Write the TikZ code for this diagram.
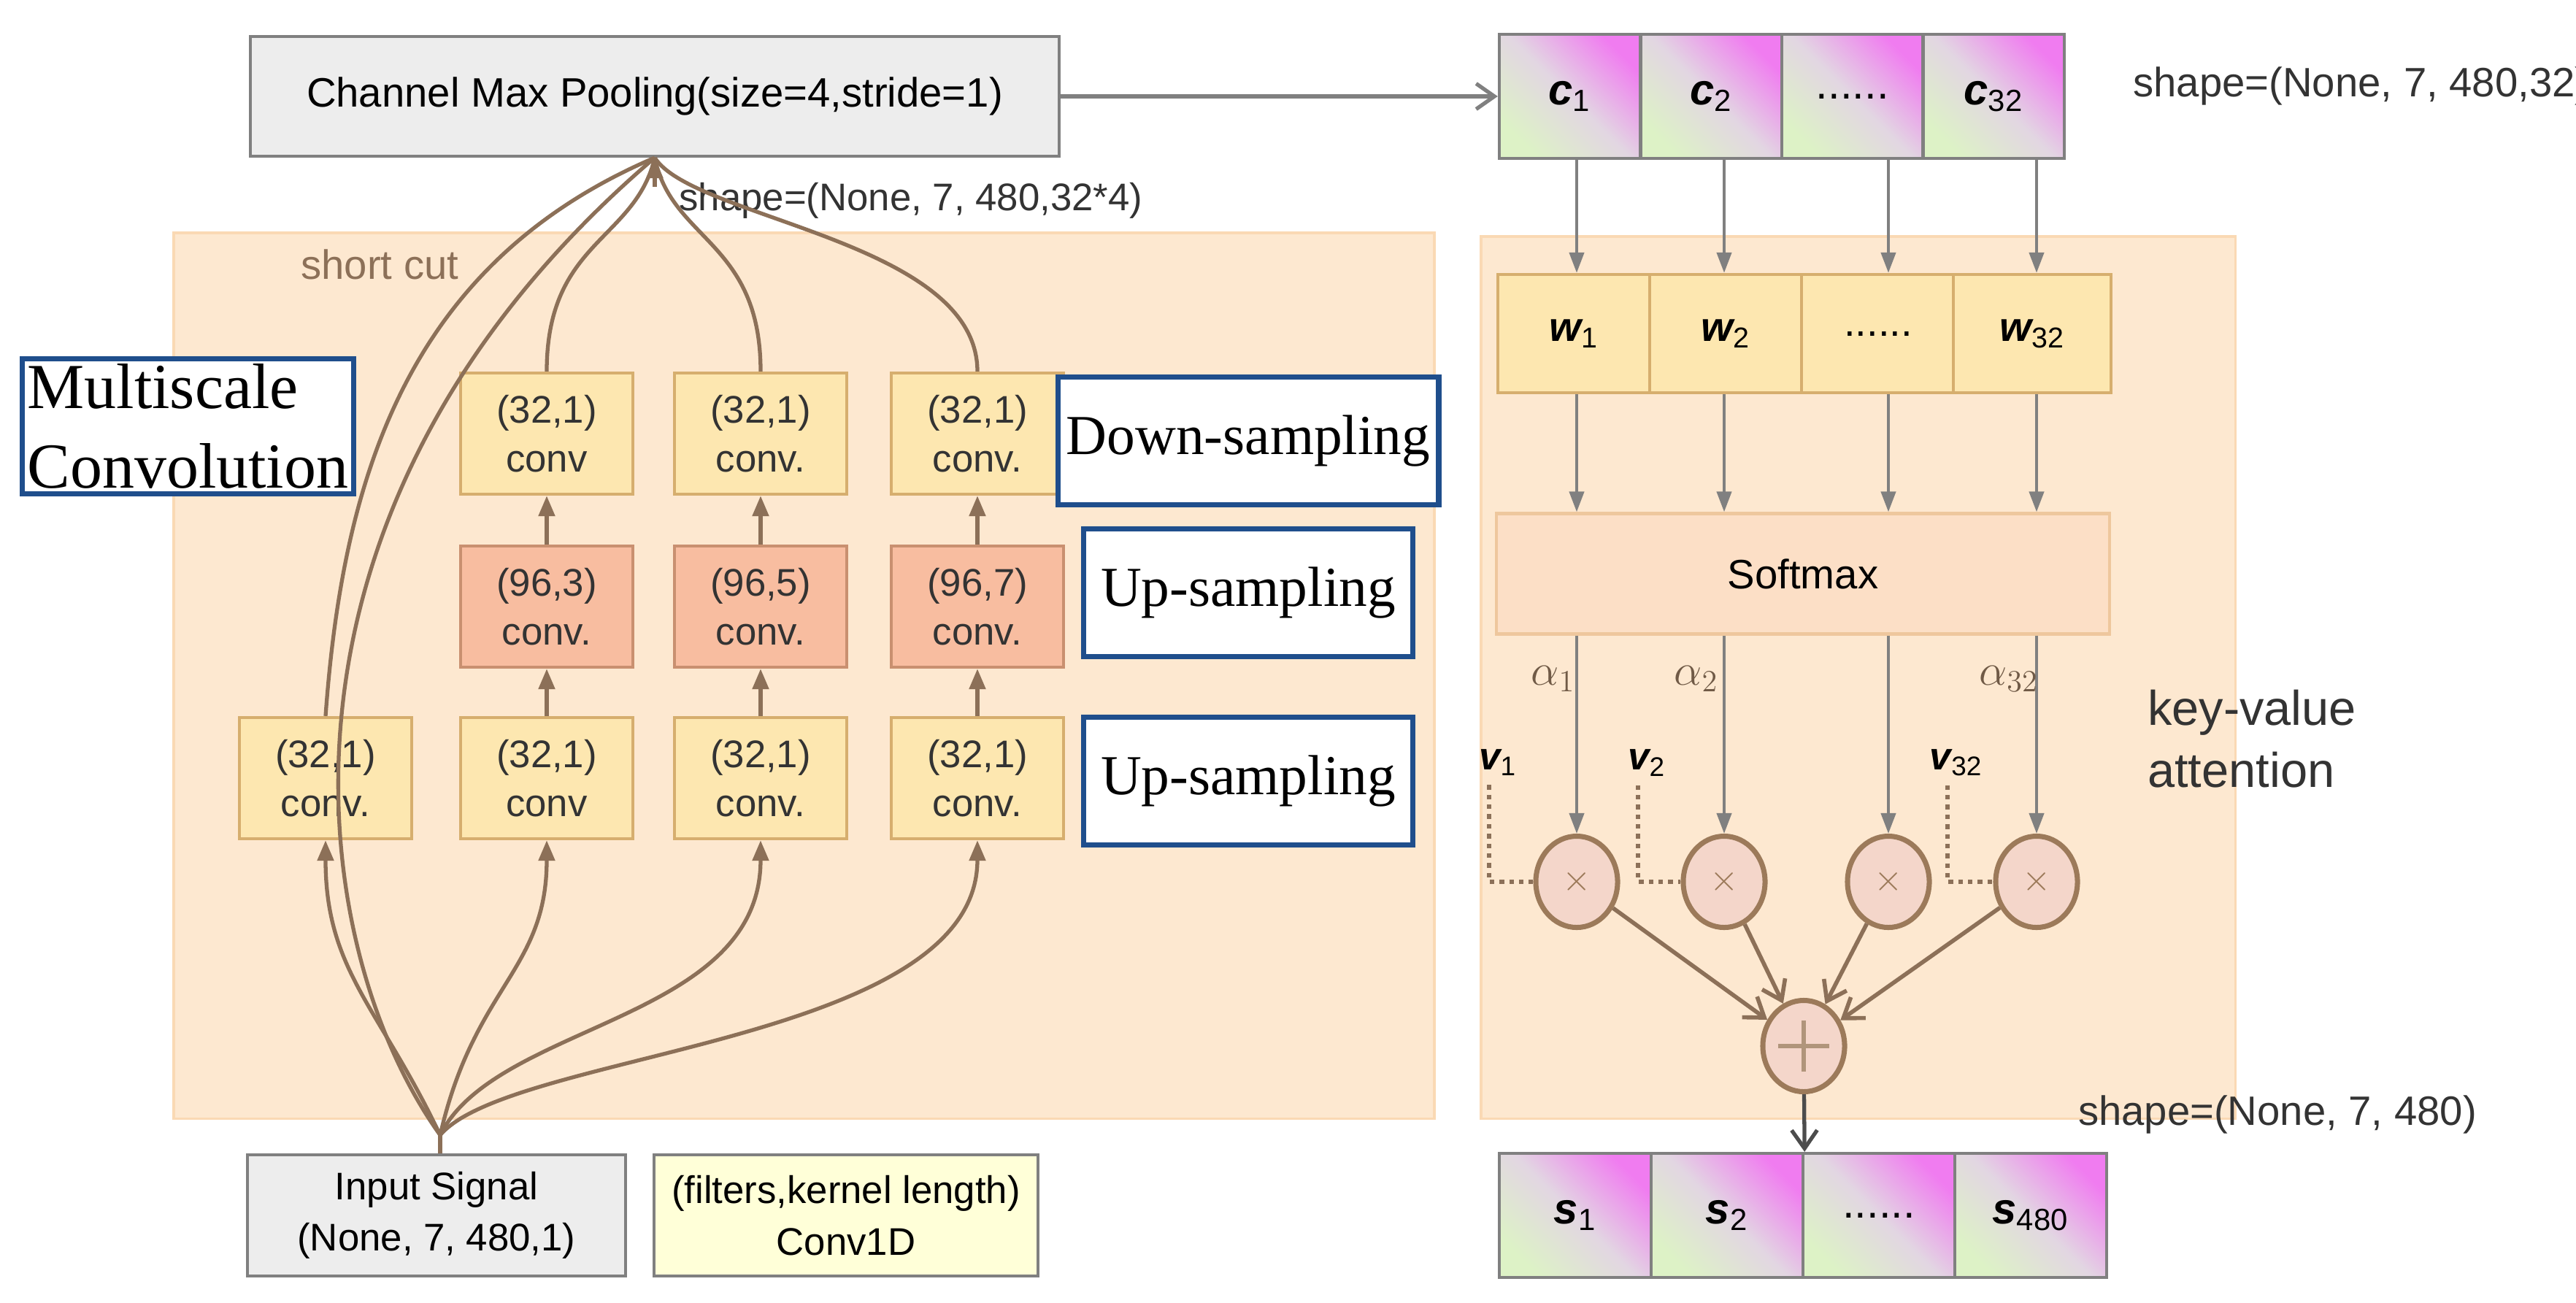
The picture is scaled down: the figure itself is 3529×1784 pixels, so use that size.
\documentclass[tikz,border=0pt]{standalone}
\usepackage{amsmath}
\usepackage{fontspec}
\setmainfont{Liberation Sans}
\newfontfamily\tms{Liberation Serif}
\usetikzlibrary{arrows.meta,shapes.geometric}
\definecolor{bgO}{HTML}{FDE8D0}
\definecolor{bgOb}{HTML}{FAD9B4}
\definecolor{yel}{HTML}{FDE7B0}
\definecolor{yelb}{HTML}{D6AE6E}
\definecolor{sal}{HTML}{F8BDA0}
\definecolor{salb}{HTML}{C99070}
\definecolor{brn}{HTML}{8C7058}
\definecolor{gry}{HTML}{EDEDED}
\definecolor{gryb}{HTML}{808080}
\definecolor{gL}{HTML}{DDF2C6}
\definecolor{gM}{HTML}{F07CF0}
\definecolor{gC}{HTML}{E2D6E2}
\definecolor{circ}{HTML}{F4D6CA}
\definecolor{circb}{HTML}{9C7A5A}
\definecolor{leg}{HTML}{FFFFD8}
\definecolor{blu}{HTML}{1F4E8C}
\newcommand{\bvar}[2]{{\bfseries\itshape #1}\textsubscript{\normalfont #2}}
\tikzset{
 px/.style={x=0.01cm,y=-0.01cm},
 bx/.style={draw=yelb,fill=yel,line width=1.2pt,minimum width=2.36cm,minimum height=1.66cm,align=center,font=\fontsize{15}{19}\selectfont,text=black!80},
 sx/.style={bx,draw=salb,fill=sal},
 wx/.style={draw=yelb,fill=yel,line width=1.2pt,minimum width=2.1cm,minimum height=1.62cm,font=\fontsize{16}{20}\selectfont},
 cx/.style={draw=gryb,line width=1.2pt,minimum height=1.7cm,font=\fontsize{17}{20}\selectfont,
   shading=axis,left color=gL,right color=gM,middle color=gC,shading angle=135},
 lbl/.style={draw=blu,fill=white,line width=2pt,minimum width=4.5cm,minimum height=1.75cm,font=\tms\fontsize{22}{26}\selectfont},
 ar/.style={draw=brn,line width=1.5pt,-{Triangle[length=0.28cm,width=0.22cm]}},
 ar2/.style={draw=gryb,line width=1.2pt,-{Triangle[length=0.28cm,width=0.2cm]}},
 op/.style={draw=brn,line width=1.6pt,-{Straight Barb[length=0.25cm,width=0.35cm]}},
 mul/.style={ellipse,draw=circb,fill=circ,line width=2pt,minimum width=1.12cm,minimum height=1.25cm,inner sep=0pt},
 txt/.style={font=\fontsize{16}{20}\selectfont,text=black!80},
 grk/.style={font=\fontsize{17}{20}\selectfont,text=brn!80!black},
}
\begin{document}
\begin{tikzpicture}[px]
\useasboundingbox (0,0) rectangle (3529,1784);
% backgrounds
\node[fill=bgO,draw=bgOb,line width=1pt,minimum width=17.26cm,minimum height=12.13cm,anchor=north west,inner sep=0pt] (bgl) at (236,317) {};
\node[fill=bgO,draw=bgOb,line width=1pt,minimum width=10.33cm,minimum height=12.08cm,anchor=north west,inner sep=0pt] (bgr) at (2027,322) {};
\node[txt,anchor=west,text=brn] (sc) at (400,362) {short cut};
% pooling
\node[draw=gryb,fill=gry,line width=1.2pt,minimum width=11.07cm,minimum height=1.64cm,font=\fontsize{16}{20}\selectfont] (pool) at (897,132) {Channel Max Pooling(size=4,stride=1)};
\coordinate (pin) at (897,216);
\node[txt,anchor=west,font=\fontsize{15}{18}\selectfont] (s1) at (918,275) {shape=(None, 7, 480,32*4)};
% Multiscale
\node[draw=blu,line width=2pt,fill=white,anchor=north west,minimum width=4.39cm,minimum height=1.8cm,align=left,font=\tms\fontsize{25}{31}\selectfont,inner sep=2pt] (ms) at (27,488) {Multiscale\\Convolution};
% column boxes
\foreach \c/\x/\k in {2/749/3,3/1042/5,4/1339/7}{
  \node[bx] (t\c) at (\x,594) {(32,1)\\conv\ifnum\c>2 .\fi};
  \node[sx] (m\c) at (\x,831) {(96,\k)\\conv.};
}
\foreach \c/\x in {1/446,2/749,3/1042,4/1339}{
  \node[bx] (b\c) at (\x,1066) {(32,1)\\conv\ifnum\c=2 \else.\fi};
}
\node[lbl] (l1) at (1710,604) {Down-sampling};
\node[lbl] (l2) at (1710,812) {Up-sampling};
\node[lbl] (l3) at (1710,1070) {Up-sampling};
% input
\node[draw=gryb,fill=gry,line width=1.2pt,minimum width=5.17cm,minimum height=1.66cm,align=center,font=\fontsize{15}{20}\selectfont] (inp) at (598,1665) {Input Signal\\(None, 7, 480,1)};
\node[draw=gryb,fill=leg,line width=1.2pt,minimum width=5.26cm,minimum height=1.66cm,align=center,font=\fontsize{15}{20}\selectfont] (lg) at (1159,1665) {(filters,kernel length)\\Conv1D};
\coordinate (src) at (603,1555);
\draw[brn,line width=1.5pt] (inp.north -| src) -- (src);
% arrows inside columns
\foreach \c in {2,3,4}{
  \draw[ar] (b\c) -- (m\c);
  \draw[ar] (m\c) -- (t\c);
}
\draw[ar] (src) .. controls (520,1380) and (446,1330) .. (b1.south);
\draw[ar] (src) .. controls (650,1350) and (749,1330) .. (b2.south);
\draw[ar] (src) .. controls (680,1400) and (1042,1400) .. (b3.south);
\draw[ar] (src) .. controls (700,1440) and (1339,1430) .. (b4.south);
% to pooling
\draw[brn,line width=1.5pt] (src) .. controls (420,1300) and (330,700) .. (pin);
\draw[brn,line width=1.5pt] (t2.north) .. controls (749,330) and (870,330) .. (pin);
\draw[brn,line width=1.5pt] (t3.north) .. controls (1042,330) and (920,330) .. (pin);
\draw[brn,line width=1.5pt] (t4.north) .. controls (1339,330) and (950,300) .. (pin);
\draw[brn,line width=1.5pt] (b1.north) .. controls (470,650) and (560,360) .. (pin);
\draw[ar] (pin) ++(0,40) -- (pin);
% c row
\foreach \i/\t in {1/{\bvar{c}{1}},2/{\bvar{c}{2}},3/{......},4/{\bvar{c}{32}}}{
  \node[cx,minimum width=1.935cm] (c\i) at ({2054+193.5*(\i-0.5)},132) {\t};
}
\node[txt,anchor=west] (s2) at (2910,118) {shape=(None, 7, 480,32)};
\draw[draw=gryb,line width=1.5pt,-{Straight Barb[length=0.25cm,width=0.35cm]}] (pool) -- (c1);
% w row
\foreach \i/\x in {1/2160,2/2362,3/2587,4/2790}{
  \coordinate (col\i) at (\x,0);
}
\node[wx,minimum width=2.08cm] (w1) at (2156,457) {\bvar{w}{1}};
\node[wx,minimum width=2.08cm] (w2) at (2364,457) {\bvar{w}{2}};
\node[wx,minimum width=2.1cm] (w3) at (2573,457) {......};
\node[wx,minimum width=2.16cm] (w4) at (2784,457) {\bvar{w}{32}};
\node[draw=bgOb!80!brown,fill=bgO!80!sal,line width=1.2pt,minimum width=8.39cm,minimum height=1.65cm,font=\fontsize{16}{20}\selectfont] (sm) at (2470,786) {Softmax};
\foreach \i in {1,2,3,4}{
  \draw[ar2] (c\i.south -| col\i) -- (w\i.north -| col\i);
  \draw[ar2] (w\i.south -| col\i) -- (sm.north -| col\i);
  \node[mul] (x\i) at (col\i |- 0,1208) {\textcolor{circb}{\Large$\times$}};
  \draw[ar2] (sm.south -| col\i) -- (x\i);
}
\node[grk] (a1) at (2128,930) {$\alpha_1$};
\node[grk] (a2) at (2324,930) {$\alpha_2$};
\node[grk] (a3) at (2752,930) {$\alpha_{32}$};
\node[font=\fontsize{15}{20}\selectfont] (v1) at (2052,1045) {\bvar{v}{1}};
\node[font=\fontsize{15}{20}\selectfont] (v2) at (2256,1045) {\bvar{v}{2}};
\node[font=\fontsize{15}{20}\selectfont] (v3) at (2680,1045) {\bvar{v}{32}};
\foreach \v/\x in {v1/x1,v2/x2,v3/x4}{
  \draw[brn,line width=1.8pt,dotted] ([xshift=-0.12cm]\v.south) |- (\x.west);
}
\node[txt,align=left,font=\fontsize{19}{24}\selectfont] (kv) at (3085,1012) {key-value\\attention};
\node[mul] (pl) at (2471,1433) {};
\draw[circb!80,line width=1.5pt] ([xshift=-0.35cm]pl.center) -- ([xshift=0.35cm]pl.center) ([yshift=-0.35cm]pl.center) -- ([yshift=0.35cm]pl.center);
\foreach \i in {1,2,3,4}{ \draw[op] (x\i) -- (pl); }
% s row
\foreach \i/\t in {1/{\bvar{s}{1}},2/{\bvar{s}{2}},3/{......},4/{\bvar{s}{480}}}{
  \node[cx,minimum width=2.08cm] (s\i) at ({2054+208*(\i-0.5)},1665) {\t};
}
\draw[draw=black!70,line width=1.5pt,-{Straight Barb[length=0.25cm,width=0.35cm]}] (pl) -- (s2.north east);
\node[txt] (s3) at (3120,1527) {shape=(None, 7, 480)};
\end{tikzpicture}
\end{document}
